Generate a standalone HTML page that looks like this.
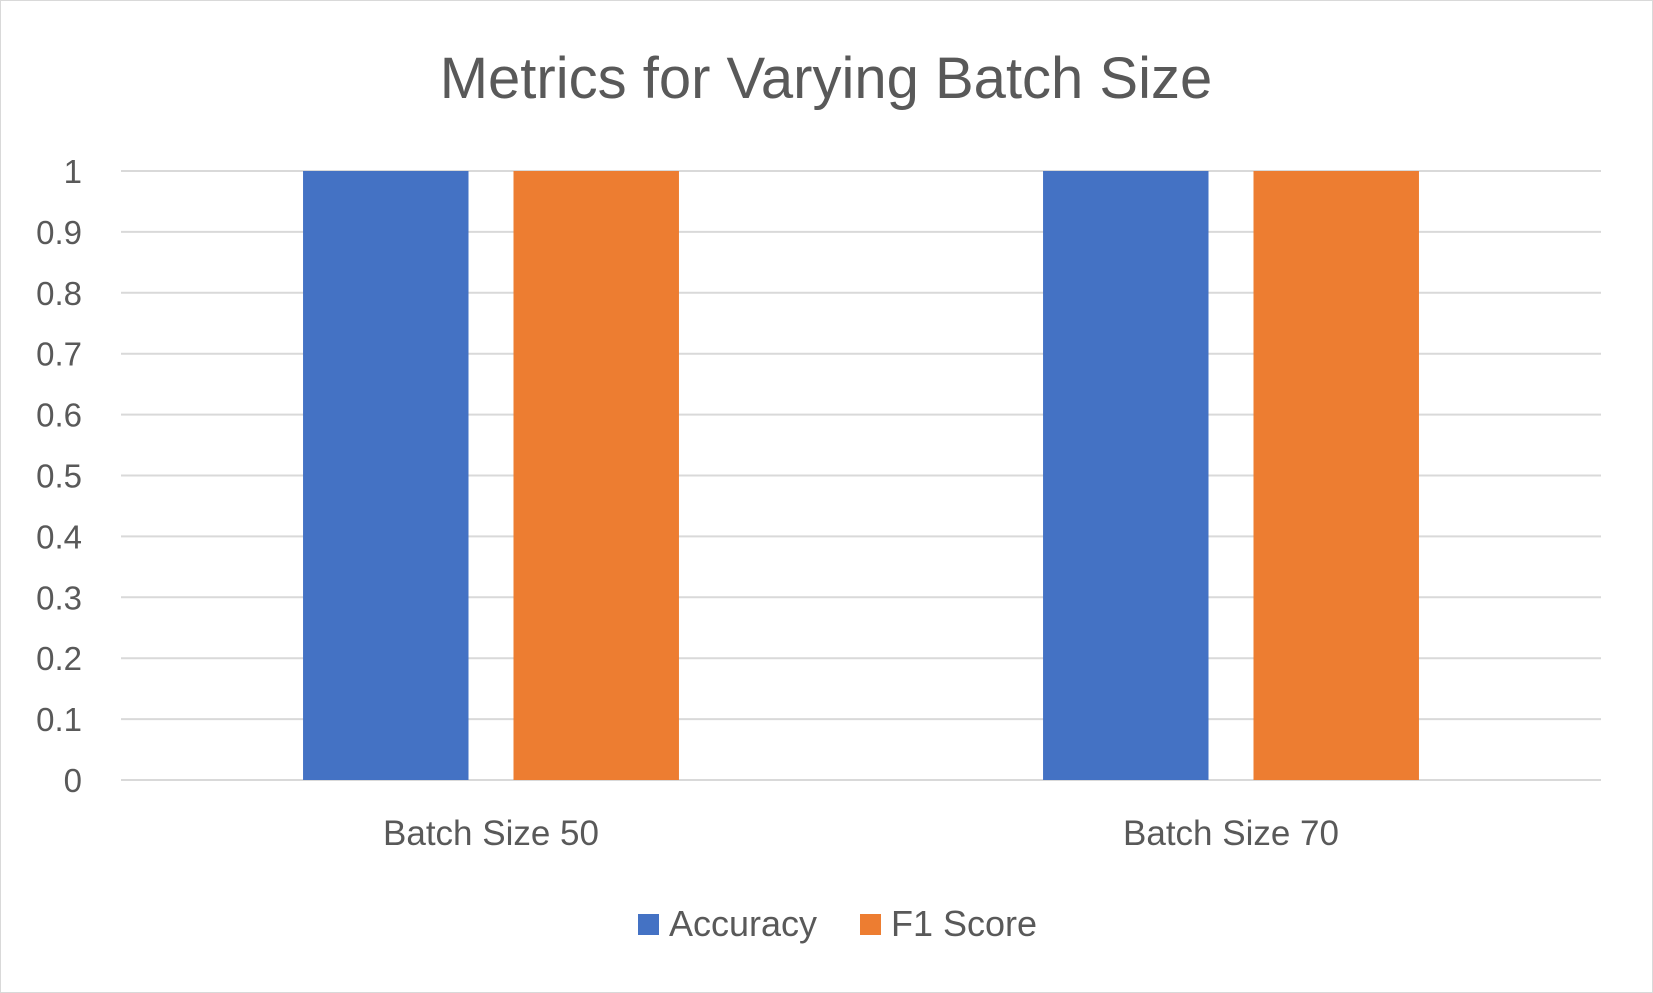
<!DOCTYPE html>
<html><head><meta charset="utf-8"><style>
html,body{margin:0;padding:0;background:#fff;}
svg{display:block;font-family:"Liberation Sans",sans-serif;}
</style></head><body>
<svg id="chart" width="1653" height="993">
<rect x="0.5" y="0.5" width="1652" height="992" fill="#fff" stroke="#d9d9d9"/>
<text x="826" y="98" text-anchor="middle" font-size="58" fill="#595959">Metrics for Varying Batch Size</text>
<g id="grid"></g><g id="bars"></g><g id="labels"></g>
<g>
<rect x="638" y="914" width="21" height="21" fill="#4472c4"/>
<text x="669" y="936" font-size="36" fill="#595959">Accuracy</text>
<rect x="860" y="914" width="21" height="21" fill="#ed7d31"/>
<text x="891" y="936" font-size="36" fill="#595959">F1 Score</text>
</g>
</svg>
<script>
const categories=["Batch Size 50","Batch Size 70"];
const accuracy=[1,1];
const f1=[1,1];
const ticks=[0,0.1,0.2,0.3,0.4,0.5,0.6,0.7,0.8,0.9,1];
const tickLabels=["0","0.1","0.2","0.3","0.4","0.5","0.6","0.7","0.8","0.9","1"];
const NS="http://www.w3.org/2000/svg";
const x0=121,x1=1601,yTop=171,yBot=780;
const yScale=v=>yBot-(v-0)/(1-0)*(yBot-yTop);
const catW=(x1-x0)/categories.length;
const barW=catW*0.2236,gap=catW*0.0608;
function mk(t,a,p){const e=document.createElementNS(NS,t);for(const k in a)e.setAttribute(k,a[k]);p.appendChild(e);return e;}
const grid=document.getElementById('grid'),bars=document.getElementById('bars'),labels=document.getElementById('labels');
ticks.forEach((t,i)=>{const y=yScale(t);
const l=mk('line',{x1:x0,x2:x1,y1:y,y2:y,stroke:'#d9d9d9','stroke-width':2},grid);


const tx=mk('text',{x:82,y:y+12,'text-anchor':'end','font-size':33,fill:'#595959'},labels);
tx.textContent=tickLabels[i];


});
categories.forEach((c,i)=>{const cx=x0+catW*(i+0.5);
const s=[[accuracy[i],'#4472c4',cx-gap/2-barW,'accuracy'],[f1[i],'#ed7d31',cx+gap/2,'f1']];
s.forEach(d=>{const y=yScale(d[0]);
const r=mk('rect',{x:d[2],y:y,width:barW,height:yBot-y,fill:d[1]},bars);

});
const t=mk('text',{x:cx,y:845,'text-anchor':'middle','font-size':35,fill:'#595959'},labels);
t.textContent=c;


});
</script>
</body></html>
